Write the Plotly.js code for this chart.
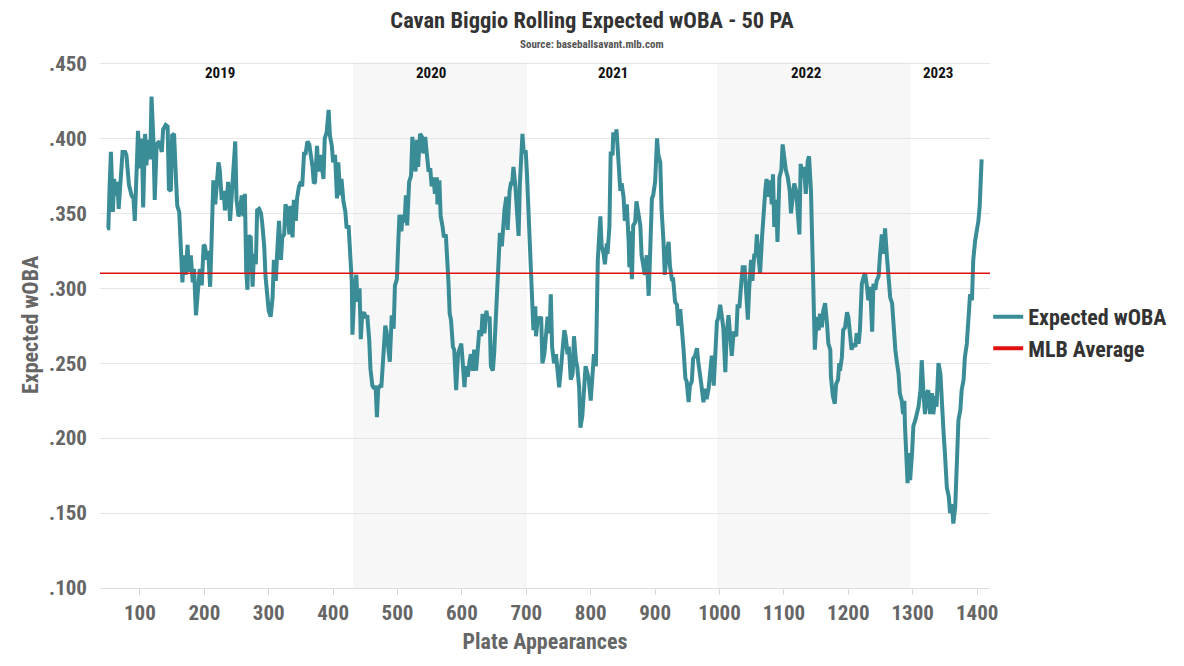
<!DOCTYPE html>
<html>
<head>
<meta charset="utf-8">
<script src="https://cdn.plot.ly/plotly-3.0.1.min.js"></script>
<style>
  html, body { margin: 0; padding: 0; background: #ffffff; }
  #chart { width: 1184px; height: 666px; }
</style>
</head>
<body>
<div id="chart"></div>
<script>
// ---- Data ----
const pa = [
  49,51,53,55,58,60,62,65,67,70,73,77,79,83,87,90,92,95,97,100,103,105,108,110,113,116,118,121,123,126,130,134,136,140,143,145,148,150,153,156,158,161,164,166,168,171,174,176,179,182,184,187,190,193,196,199,
  201,204,206,209,211,214,217,219,222,224,227,230,232,235,237,240,242,245,248,250,253,255,258,261,263,265,267,269,272,275,277,280,282,285,288,290,293,295,298,300,303,306,308,311,313,316,319,321,324,326,329,332,334,337,339,342,344,347,350,352,355,357,360,363,365,368,370,
  372,375,377,380,382,385,387,390,393,395,398,400,403,406,408,411,413,416,419,421,424,426,429,430,433,436,438,441,443,445,448,451,453,456,458,461,464,466,468,470,473,475,478,481,483,486,488,491,494,496,499,501,503,506,508,511,513,515,518,521,523,526,
  528,530,532,535,538,540,543,545,548,551,553,556,558,561,562,565,567,570,572,575,577,579,581,583,586,588,591,594,596,599,601,604,606,609,612,614,617,619,622,625,627,630,632,635,638,640,643,645,648,650,653,655,657,659,662,664,666,669,671,674,676,678,680,683,685,688,690,693,694,
  696,699,701,703,705,707,710,711,714,715,718,720,723,725,728,731,733,736,738,740,743,746,748,751,753,756,759,761,764,766,769,772,774,777,779,782,784,787,790,792,795,797,800,803,805,808,809,811,813,815,817,820,822,825,826,829,831,834,835,838,840,843,846,848,851,853,856,859,860,
  861,864,866,869,871,874,877,879,882,884,887,890,892,895,897,900,903,905,908,910,913,915,918,921,923,926,928,931,934,936,939,941,944,947,949,952,954,957,959,962,965,967,970,972,975,978,980,983,985,988,991,993,996,998,1001,1004,1006,1009,1011,1014,1016,1019,1022,
  1023,1026,1028,1031,1034,1036,1039,1041,1044,1046,1049,1051,1054,1056,1058,1060,1063,1066,1068,1071,1073,1076,1079,1081,1083,1085,1088,1090,1093,1096,1098,1101,1103,1106,1109,1111,1114,1116,1119,1122,1124,1126,1128,1131,1134,1137,1139,1142,1144,1146,1148,1151,1154,1156,1159,1161,1164,1167,1169,1172,1173,1176,1179,1181,1184,1186,
  1187,1190,1192,1195,1198,1200,1203,1205,1208,1211,1213,1216,1218,1221,1224,1226,1229,1231,1234,1237,1239,1242,1244,1247,1249,1252,1255,1257,1260,1262,1265,1268,1270,
  1273,1275,1278,1280,1283,1285,1287,1288,1290,1292,1294,1296,1299,1301,1304,1306,1309,1312,1314,1317,1319,1322,1324,1327,1330,1332,1335,1337,1340,1343,1345,1348,1350,1353,1356,1358,1361,1363,1366,1369,1371,1374,1376,1379,1381,1384,1387,1389,1392,1394,1397,1400,1402,1404,1407
];
const xwoba = [
  .340,.340,.369,.391,.351,.373,.362,.371,.353,.378,.391,.391,.389,.369,.362,.360,.345,.380,.405,.380,.400,.354,.403,.382,.399,.386,.428,.398,.359,.396,.398,.391,.406,.409,.408,.366,.365,.402,.403,.373,.355,.351,.326,.304,.322,.309,.329,.311,.322,.304,.313,.282,.298,.313,.302,.329,
  .328,.319,.325,.301,.328,.372,.356,.370,.384,.379,.359,.365,.352,.359,.371,.345,.359,.385,.398,.359,.348,.350,.362,.348,.363,.312,.299,.335,.334,.301,.323,.316,.352,.353,.350,.343,.328,.308,.292,.285,.281,.294,.319,.305,.323,.345,.319,.334,.336,.356,.352,.336,.355,.334,.359,.345,.360,.368,.371,.368,.391,.389,.398,.396,.390,.381,.370,
  .371,.395,.378,.389,.380,.373,.400,.404,.419,.402,.395,.384,.389,.360,.384,.362,.373,.358,.351,.340,.342,.322,.304,.269,.298,.309,.291,.300,.266,.282,.284,.280,.282,.266,.246,.235,.233,.235,.214,.233,.235,.235,.251,.275,.271,.260,.251,.282,.273,.302,.306,.329,.349,.338,.349,.344,.362,.342,.371,.375,.401,.384,
  .378,.399,.381,.403,.401,.390,.401,.392,.379,.379,.368,.374,.363,.374,.356,.372,.348,.341,.334,.336,.323,.305,.283,.279,.261,.259,.232,.256,.259,.263,.252,.234,.248,.241,.252,.256,.245,.259,.245,.259,.272,.268,.283,.270,.285,.279,.281,.248,.245,.256,.288,.310,.319,.337,.328,.345,.352,.361,.339,.365,.370,.370,.381,.368,.350,.335,.370,.392,.403,
  .390,.392,.376,.356,.328,.310,.290,.272,.288,.268,.281,.279,.281,.250,.256,.268,.281,.270,.296,.261,.250,.256,.248,.234,.243,.256,.272,.268,.256,.261,.239,.243,.268,.252,.248,.234,.207,.215,.239,.248,.243,.239,.225,.252,.256,.248,.279,.319,.334,.348,.328,.323,.316,.330,.323,.341,.390,.390,.404,.399,.406,.383,.365,.370,.361,.345,.356,.330,.314,
  .338,.306,.342,.344,.358,.351,.342,.322,.313,.309,.322,.295,.320,.360,.362,.371,.400,.389,.384,.353,.331,.309,.324,.331,.315,.306,.306,.291,.289,.275,.286,.278,.260,.240,.238,.224,.235,.238,.253,.255,.260,.251,.238,.235,.224,.233,.226,.233,.242,.255,.235,.253,.278,.280,.289,.280,.273,.244,.269,.282,.271,.255,.271,
  .270,.268,.288,.288,.305,.314,.314,.294,.279,.299,.319,.305,.323,.321,.336,.323,.310,.334,.350,.365,.373,.361,.372,.356,.376,.341,.359,.331,.374,.379,.396,.383,.379,.374,.365,.350,.361,.370,.365,.350,.336,.383,.374,.381,.363,.385,.388,.365,.325,.290,.259,.281,.272,.283,.274,.285,.290,.276,.263,.259,.241,.228,.223,.236,.239,.250,
  .245,.254,.272,.274,.284,.281,.265,.259,.263,.261,.270,.263,.272,.303,.308,.310,.301,.292,.301,.271,.303,.299,.305,.308,.321,.336,.323,.340,.321,.310,.294,.290,.276,
  .259,.252,.243,.230,.225,.216,.225,.208,.185,.170,.190,.172,.190,.208,.212,.216,.221,.232,.252,.228,.216,.230,.232,.216,.230,.216,.228,.221,.250,.243,.223,.203,.190,.167,.161,.150,.156,.143,.154,.203,.212,.219,.232,.239,.254,.263,.288,.296,.292,.319,.332,.339,.345,.355,.386
];
const mlbAverage = 0.310;
const seasonLabels = ['2019', '2020', '2021', '2022', '2023'];
const seasonLabelPA = [224, 552, 834, 1134, 1339];
const shadedSeasonStart = [431, 996];
const shadedSeasonEnd = [701, 1297];
const yTickVals = [0.10, 0.15, 0.20, 0.25, 0.30, 0.35, 0.40, 0.45];
const yTickText = ['.100', '.150', '.200', '.250', '.300', '.350', '.400', '.450'];
const xTickVals = [100, 200, 300, 400, 500, 600, 700, 800, 900, 1000, 1100, 1200, 1300, 1400];

// ---- Chart ----
const FONT = '"Roboto Condensed", "Liberation Sans Narrow", "Arial Narrow", "DejaVu Sans Condensed", Roboto, sans-serif';
const xRange = [38, 1420];
const TEAL = '#3a8d97';
const RED = '#e01010';

const traces = [
  {
    x: pa, y: xwoba, type: 'scatter', mode: 'lines', name: 'Expected wOBA',
    line: { color: TEAL, width: 4 }, hoverinfo: 'x+y'
  },
  {
    x: xRange, y: [mlbAverage, mlbAverage], type: 'scatter', mode: 'lines', name: 'MLB Average',
    line: { color: RED, width: 1.5 }, hoverinfo: 'y', showlegend: false, legendgroup: 'mlb'
  },
  {
    // legend entry for the MLB average (thick swatch as in the reference legend)
    x: [null], y: [null], type: 'scatter', mode: 'lines', name: 'MLB Average',
    line: { color: RED, width: 4 }, legendgroup: 'mlb'
  }
];

const shapes = shadedSeasonStart.map((s, i) => ({
  type: 'rect', xref: 'x', yref: 'paper', x0: s, x1: shadedSeasonEnd[i], y0: 0, y1: 1,
  fillcolor: '#f7f7f7', line: { width: 0 }, layer: 'below'
}));

const annotations = seasonLabels.map((t, i) => ({
  text: t, x: seasonLabelPA[i], xref: 'x', y: 0.979, yref: 'paper', yanchor: 'middle',
  showarrow: false, font: { family: FONT, size: 15, color: '#111', weight: 'bold' }
}));
annotations.push({
  text: 'Source: baseballsavant.mlb.com', xref: 'paper', x: (592 - 100) / 890, xanchor: 'center',
  yref: 'paper', y: 1 + (62 - 45) / 526, yanchor: 'middle', showarrow: false,
  font: { family: FONT, size: 11, color: '#555', weight: 'bold' }
});

const layout = {
  width: 1184, height: 666,
  paper_bgcolor: '#ffffff', plot_bgcolor: '#ffffff',
  margin: { l: 100, r: 194, t: 62, b: 78 },
  font: { family: FONT },
  title: {
    text: 'Cavan Biggio Rolling Expected wOBA - 50 PA',
    font: { family: FONT, size: 22.5, color: '#333', weight: 'bold' },
    x: 0.5, xref: 'container', xanchor: 'center',
    y: 1 - 20 / 666, yref: 'container', yanchor: 'middle'
  },
  xaxis: {
    range: xRange, tickvals: xTickVals, ticks: 'outside', ticklen: 6, tickcolor: '#d8d8d8',
    showgrid: false, zeroline: false, showline: true, linecolor: '#dddddd', linewidth: 1,
    tickfont: { family: FONT, size: 21, color: '#666', weight: 'bold' },
    title: { text: 'Plate Appearances', font: { family: FONT, size: 22, color: '#666', weight: 'bold' }, standoff: 9 }
  },
  yaxis: {
    range: [0.1, 0.451], tickvals: yTickVals, ticktext: yTickText, ticks: '',
    ticklabelstandoff: 12,
    showgrid: true, gridcolor: '#e6e6e6', gridwidth: 1, zeroline: false, showline: false,
    tickfont: { family: FONT, size: 21, color: '#666', weight: 'bold' },
    title: { text: 'Expected wOBA', font: { family: FONT, size: 22, color: '#666', weight: 'bold' }, standoff: 4 }
  },
  legend: {
    x: 0.998, xanchor: 'left', y: 0.485, yanchor: 'middle',
    font: { family: FONT, size: 22, color: '#333', weight: 'bold' },
    bgcolor: 'rgba(0,0,0,0)', tracegroupgap: 0, itemwidth: 30
  },
  shapes: shapes,
  annotations: annotations,
  showlegend: true
};

Plotly.newPlot('chart', traces, layout, { displayModeBar: false, staticPlot: true });
</script>
</body>
</html>
